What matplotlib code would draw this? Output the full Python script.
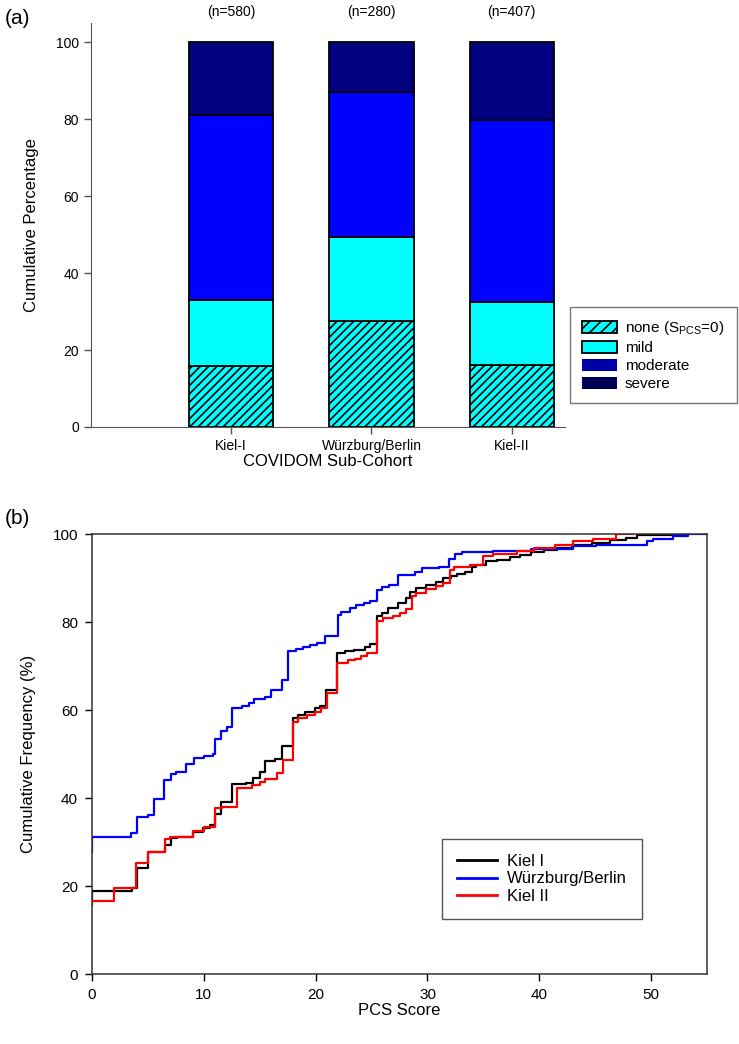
import matplotlib
matplotlib.use('Agg')
import matplotlib.pyplot as plt
from matplotlib.patches import Patch

plt.rcParams['font.family'] = ['Liberation Sans', 'DejaVu Sans']
plt.rcParams['hatch.linewidth'] = 1.2

# panel (a): share of each PCS severity per sub-cohort (cumulative %)
cohorts = ['Kiel-I', 'Würzburg/Berlin', 'Kiel-II']
n_labels = ['(n=580)', '(n=280)', '(n=407)']
none_pct = [15.8, 27.5, 16.2]
mild_pct = [17.2, 21.8, 16.4]
moderate_pct = [48.0, 37.8, 47.2]
severe_pct = [19.0, 12.9, 20.2]

# panel (b): cumulative frequency of PCS score (step curves)
kiel1_x = [0, 0, 3.55, 4.05, 5.05, 6.55, 7.1, 7.6, 9.05, 9.95,
           10.55, 11.0, 11.5, 12.5, 13.8, 14.4, 15.0, 15.5, 16.4, 17.0,
           17.95, 18.45, 19.05, 19.95, 20.4, 20.9, 21.95, 22.6, 23.4, 24.4,
           24.9, 25.5, 25.9, 26.5, 27.4, 28.1, 28.4, 29.0, 29.9, 30.8,
           31.4, 32.1, 32.6, 33.4, 34.0, 34.3, 35.2, 36.2, 37.4, 38.3,
           39.3, 40.4, 41.6, 42.9, 44.7, 46.3, 47.8, 48.7, 52.0, 53.3]
kiel1_y = [16.4, 18.9, 19.5, 24.0, 27.8, 29.3, 30.8, 31.2, 32.3, 33.1,
           33.9, 36.3, 39.0, 43.1, 43.5, 44.5, 45.8, 48.3, 48.8, 51.9,
           58.1, 58.9, 59.6, 60.4, 60.9, 64.5, 73.0, 73.3, 73.6, 74.4,
           75.0, 81.4, 82.0, 83.1, 84.4, 85.4, 86.9, 87.7, 88.4, 89.2,
           89.9, 90.4, 90.9, 91.4, 92.4, 93.0, 93.8, 94.2, 94.7, 95.3,
           95.9, 96.4, 96.8, 97.4, 97.95, 98.7, 99.2, 99.7, 100, 100]

wb_x = [0, 0, 3.5, 4.0, 5.05, 5.5, 6.4, 7.05, 7.55, 8.45,
        9.1, 10.0, 10.8, 11.0, 11.55, 12.05, 12.55, 13.4, 14.0, 14.5,
        15.5, 16.0, 17.0, 17.5, 18.2, 18.9, 19.5, 20.1, 20.85, 22.0,
        22.3, 23.1, 23.6, 24.3, 24.9, 25.5, 25.9, 26.6, 27.4, 28.9,
        29.5, 31.0, 31.9, 32.5, 33.1, 35.9, 39.3, 43.0, 45.1, 49.6,
        50.2, 52.0, 53.3, 55.0]
wb_y = [27.8, 31.2, 32.0, 35.6, 36.1, 39.8, 44.1, 45.4, 46.0, 47.7,
        49.0, 49.5, 50.0, 53.3, 55.2, 56.2, 60.5, 60.9, 61.7, 62.6,
        63.0, 64.5, 66.8, 73.4, 73.9, 74.4, 74.8, 75.2, 76.8, 81.6,
        82.3, 83.1, 83.9, 84.4, 84.8, 87.3, 87.9, 88.4, 90.7, 91.4,
        92.2, 92.6, 94.4, 95.4, 95.8, 96.1, 96.7, 97.2, 97.6, 98.3,
        98.9, 99.5, 100, 100]

kiel2_x = [0, 0, 2.0, 3.9, 5.0, 6.5, 7.0, 9.05, 10.0, 11.0,
           11.6, 13.0, 14.3, 15.0, 15.5, 16.5, 17.05, 17.95, 18.45, 19.2,
           19.95, 20.5, 21.0, 21.95, 22.9, 23.5, 24.1, 24.55, 25.46, 26.05,
           26.95, 27.5, 28.1, 28.6, 29.0, 29.9, 30.8, 31.4, 32.0, 32.4,
           33.8, 35.0, 35.9, 38.0, 39.5, 41.4, 43.0, 44.8, 46.9, 48.4]
kiel2_y = [15.7, 16.6, 19.5, 25.2, 27.7, 30.6, 31.2, 32.5, 33.3, 37.7,
           38.0, 42.2, 43.0, 43.7, 44.3, 45.7, 48.6, 57.3, 58.1, 58.9,
           59.6, 60.4, 63.8, 70.7, 71.3, 71.7, 72.3, 73.0, 80.2, 80.8,
           81.4, 82.1, 82.9, 85.8, 86.5, 87.4, 88.2, 88.9, 91.8, 92.6,
           93.0, 94.9, 95.5, 96.1, 96.8, 97.6, 98.3, 98.9, 100, 100]

W, H = 739, 1044
fig = plt.figure(figsize=(W / 100, H / 100), dpi=100)

# ---------- (a) stacked bars ----------
ax1 = fig.add_axes([91 / W, 1 - 427 / H, 474 / W, 404 / H])
pos = [1, 2, 3]
spine_col = '#555555'
bottom = [0, 0, 0]
layers = [(none_pct, '#00FFFF', '////'), (mild_pct, '#00FFFF', None),
          (moderate_pct, '#0000FF', None), (severe_pct, '#000080', None)]
for vals, col, hatch in layers:
    ax1.bar(pos, vals, 0.6, bottom=bottom, color=col, edgecolor='black',
            linewidth=1.3, hatch=hatch)
    bottom = [b + v for b, v in zip(bottom, vals)]

for p, lab in zip(pos, n_labels):
    ax1.text(p, 107.8, lab, ha='center', va='center', fontsize=10)

ax1.set_xlim(0, 3.38)
ax1.set_ylim(0, 105)
ax1.set_xticks(pos)
ax1.set_xticklabels(cohorts, fontsize=10)
ax1.set_yticks(range(0, 101, 20))
ax1.tick_params(labelsize=10, direction='out', length=5, width=1, color=spine_col, pad=3.5)
for s in ['top', 'right']:
    ax1.spines[s].set_visible(False)
for s in ['left', 'bottom']:
    ax1.spines[s].set_color(spine_col)
ax1.set_xlabel('COVIDOM Sub-Cohort', fontsize=12, labelpad=1)
ax1.set_ylabel('Cumulative Percentage', fontsize=12, labelpad=12)

handles = [Patch(facecolor='#00FFFF', edgecolor='black', hatch='///', linewidth=1.3),
           Patch(facecolor='#00FFFF', edgecolor='black', linewidth=1.3),
           Patch(facecolor='#0000A8', edgecolor='none'),
           Patch(facecolor='#000055', edgecolor='none')]
labels = ['none (S$_{\\mathregular{PCS}}$=0)', 'mild', 'moderate', 'severe']
leg1 = fig.legend(handles, labels, loc='upper left',
                  bbox_to_anchor=(570 / W, 1 - 307 / H), borderaxespad=0,
                  fontsize=11, handlelength=2.3, handleheight=0.8,
                  handletextpad=0.5, labelspacing=0.25, borderpad=0.8,
                  fancybox=False, edgecolor='#777777', framealpha=1)
leg1.get_frame().set_linewidth(1)

fig.text(17 / W, 1 - 18 / H, '(a)', fontsize=15, ha='center', va='center')

# ---------- (b) cumulative frequency ----------
ax2 = fig.add_axes([92 / W, 1 - 974 / H, 615 / W, 440 / H])
ax2.step(kiel1_x, kiel1_y, where='post', color='black', lw=1.6, label='Kiel I')
ax2.step(wb_x, wb_y, where='post', color='#0000FF', lw=1.6, label='Würzburg/Berlin')
ax2.step(kiel2_x, kiel2_y, where='post', color='#FF0000', lw=1.6, label='Kiel II')
ax2.set_xlim(0, 55)
ax2.set_ylim(0, 100)
ax2.set_xticks(range(0, 51, 10))
ax2.set_yticks(range(0, 101, 20))
ax2.tick_params(labelsize=11, direction='out', length=5, width=1, pad=5)
for s in ax2.spines.values():
    s.set_color('#333333')
    s.set_linewidth(1.1)
ax2.set_xlabel('PCS Score', fontsize=12, labelpad=1)
ax2.set_ylabel('Cumulative Frequency (%)', fontsize=12, labelpad=12)
leg2 = ax2.legend(loc='upper left', bbox_to_anchor=(442 / W, 1 - 839 / H),
                  bbox_transform=fig.transFigure, borderaxespad=0, fontsize=12,
                  handlelength=2.4, handletextpad=0.6, labelspacing=0.15,
                  borderpad=0.9, fancybox=False, edgecolor='#555555', framealpha=1)
for line in leg2.get_lines():
    line.set_linewidth(2)
leg2.get_frame().set_linewidth(1)

fig.text(17 / W, 1 - 518 / H, '(b)', fontsize=15, ha='center', va='center')

fig.savefig('out.png', dpi=100)
